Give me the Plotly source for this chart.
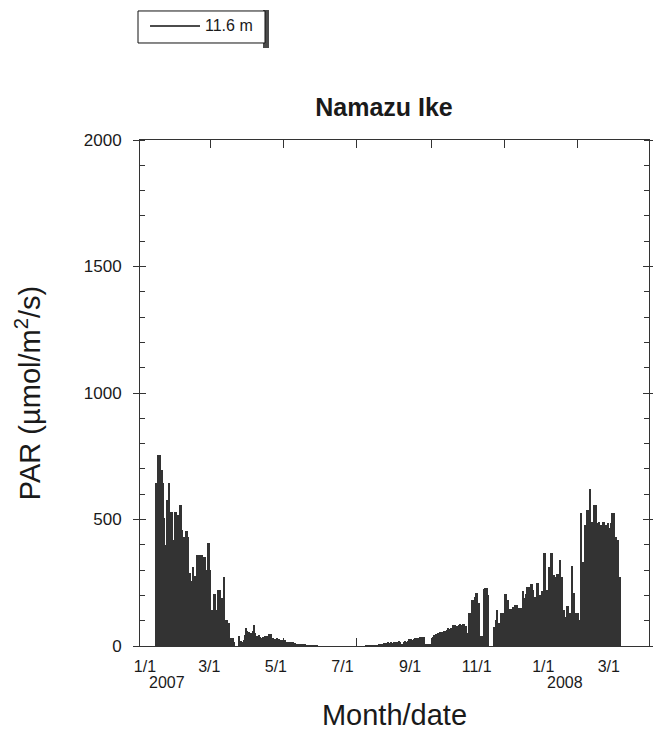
import pandas as pd
import plotly.graph_objects as go

# ---------------- data (daily PAR, µmol/m2/s, from 2007-01-14) ----------------
start_date = "2007-01-14 12:00"

par_jan_mar = [
    644, 644, 755, 755, 696, 696, 644, 506, 400, 577, 577, 644,
    530, 530, 419, 419, 530, 530, 518, 440, 557, 557, 458, 431,
    431, 455, 455, 430, 288, 257, 257, 312, 277, 277, 360, 360,
    300, 360, 360, 310, 352, 352, 300, 407, 407, 300, 111, 142,
    205, 205, 142, 142, 221, 221, 142, 190, 190, 273, 103, 103,
    91, 91, 32, 32, 32, 15,
]
par_mar_may = [
    0, 0, 0, 40, 17, 20, 15, 25, 45, 71, 60, 55, 57, 50, 48, 60,
    83, 50, 40, 38, 42, 36, 30, 36, 32, 40, 35, 38, 47, 47, 47, 30,
    30, 28, 28, 30, 27, 26, 24, 24, 23, 24, 22, 17, 17, 16, 17, 15,
    14, 10, 10, 9, 9, 8, 8, 7, 6, 6, 5,
]
par_winter = [
    1, 1, 1, 1, 1, 1, 1, 1, 1, 1, 0, 0, 0, 0, 0, 0, 0, 0, 0, 0,
    0, 0, 0, 0, 0, 0, 0, 0, 0, 0, 0, 0, 0, 0, 0, 0, 0, 0, 0, 0,
    0, 0, 0, 0, 0, 0, 0, 0, 0, 0, 1, 1, 1, 1, 1, 1, 1, 1, 1, 1,
    1,
]
par_jul_oct = [
    8, 8, 9, 8, 10, 10, 12, 12, 14, 12, 16, 13, 12, 15, 16, 17,
    17, 18, 17, 4, 3, 17, 18, 17, 20, 26, 26, 28, 25, 27, 30, 30,
    31, 30, 34, 34, 33, 36, 34, 5, 6, 8, 7, 9, 25, 35, 43, 43,
    48, 50, 52, 55, 57, 55, 58, 60, 57, 62, 70, 68, 72, 70, 83, 80,
    83, 78, 80, 82, 87, 85, 88, 87, 79, 79, 53, 130, 130, 95, 182, 182,
    194, 209, 209, 170, 170, 40, 40, 13, 225, 229, 229, 200, 0, 0, 0, 0,
]
par_nov_feb = [
    75, 75, 103, 142, 91, 91, 130, 130, 130, 206, 206, 182, 182, 146, 146, 146,
    154, 154, 162, 162, 150, 150, 150, 150, 217, 190, 190, 205, 233, 233, 233, 245,
    245, 221, 194, 194, 249, 249, 200, 200, 217, 217, 368, 368, 221, 221, 312, 312,
    368, 368, 281, 273, 273, 285, 285, 340, 273, 273, 142, 142, 115, 158, 158, 130,
    130, 316, 209, 209, 44, 130, 130, 103, 103, 526, 332, 332, 478, 478, 538, 538,
    620, 490, 490, 451, 557, 557, 486, 486, 490, 478, 478, 490, 490, 478, 478, 486,
    466, 466, 486, 526, 526, 431, 431, 419, 419, 273,
]
par_values = par_jan_mar + par_mar_may + par_winter + par_jul_oct + par_nov_feb
dates = pd.date_range(start_date, periods=len(par_values), freq="D")

tick_dates = ["2007-01-01", "2007-03-01", "2007-05-01", "2007-07-01",
              "2007-09-01", "2007-11-01", "2008-01-01", "2008-03-01"]
tick_labels = ["1/1", "3/1", "5/1", "7/1", "9/1", "11/1", "1/1", "3/1"]
year_labels = [("2007-01-01", "2007"), ("2008-01-01", "2008")]
y_ticks = [0, 500, 1000, 1500, 2000]
series_name = "11.6 m"

FONT = "Liberation Sans, Arial, sans-serif"
INK = "#1a1a1a"
AXC = "#333333"

fig = go.Figure()
fig.add_trace(go.Bar(
    x=dates, y=par_values, width=86400000,
    marker=dict(color="#333333", line=dict(width=0)),
    showlegend=False, name=series_name,
))
# helper invisible trace to activate the overlay axes
fig.add_trace(go.Scatter(x=[None], y=[None], xaxis="x2", yaxis="y2",
                         showlegend=False, hoverinfo="skip"))

fig.update_layout(
    template="none",
    width=653, height=723,
    paper_bgcolor="white", plot_bgcolor="white",
    margin=dict(l=132, r=12, t=132, b=85, autoexpand=False),
    bargap=0,
    showlegend=False,
    font=dict(family=FONT, color=INK, size=16),
    title=dict(text="<b>Namazu Ike</b>", x=0.5758, xref="container", xanchor="center",
               y=0.863, yref="container", yanchor="middle",
               font=dict(size=25, family=FONT, color=INK)),
    xaxis=dict(
        type="date", range=["2007-01-01", "2008-03-01"],
        tickvals=tick_dates, showticklabels=False,
        ticks="inside", ticklen=8, tickcolor=AXC, tickwidth=1,
        showline=True, linecolor=AXC, linewidth=1, mirror="allticks",
        showgrid=False, zeroline=False, automargin=False,
        title=dict(text="Month/date", font=dict(size=29), standoff=60),
    ),
    xaxis2=dict(
        type="date", overlaying="x", side="bottom", anchor="y",
        range=["2006-12-27 12:00", "2008-04-06 20:00"],
        tickvals=tick_dates, ticktext=tick_labels, ticks="",
        showline=False, showgrid=False, zeroline=False, automargin=False,
        tickfont=dict(size=16), ticklabelstandoff=9,
    ),
    yaxis=dict(
        range=[0, 2000], tickvals=y_ticks,
        ticks="outside", ticklen=6, tickcolor=AXC, tickwidth=1,
        minor=dict(dtick=100, ticks="inside", ticklen=5, tickcolor=AXC),
        showline=True, linecolor=AXC, linewidth=1, mirror="allticks",
        showgrid=False, zeroline=False, automargin=False,
        tickfont=dict(size=17), ticklabelstandoff=8,
        title=dict(text="PAR (µmol/m<sup>2</sup>/s)", font=dict(size=29), standoff=34),
    ),
    yaxis2=dict(
        range=[0, 2000], tickvals=y_ticks, overlaying="y", anchor="x",
        ticks="inside", ticklen=6, tickcolor=AXC, showticklabels=False,
        showline=False, mirror="allticks", showgrid=False, zeroline=False,
        automargin=False,
    ),
)

for d, yr in year_labels:
    fig.add_annotation(x=d, xref="x2", y=0, yref="paper", text=yr,
                       showarrow=False, xanchor="center", yanchor="top",
                       xshift=22, yshift=-26, font=dict(size=16))

# hand-drawn legend box (as in the original figure)
fig.add_shape(type="rect", xref="paper", yref="paper",
              x0=0.2417, x1=0.2534, y0=1.1818, y1=1.2569,
              line=dict(width=0), fillcolor="#4a4a4a")
fig.add_shape(type="rect", xref="paper", yref="paper",
              x0=-0.0039, x1=0.2456, y0=1.1917, y1=1.255,
              line=dict(color="#111111", width=1), fillcolor="white")
fig.add_shape(type="line", xref="paper", yref="paper",
              x0=0.0197, x1=0.1179, y0=1.2253, y1=1.2253,
              line=dict(color="#111111", width=1.5))
fig.add_annotation(x=0.1238, y=1.2253, xref="paper", yref="paper",
                   text=series_name, showarrow=False, xanchor="left",
                   yanchor="middle", font=dict(size=16))

fig.write_html("out.html")
